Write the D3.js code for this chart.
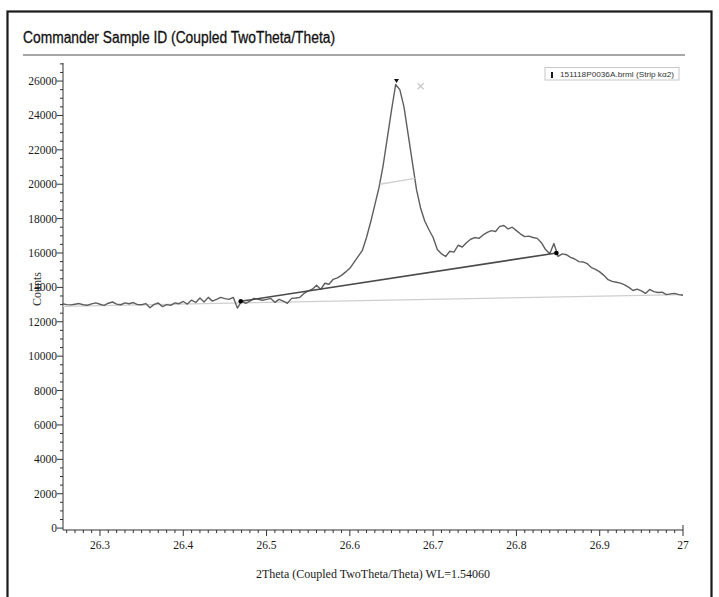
<!DOCTYPE html>
<html>
<head>
<meta charset="utf-8">
<script src="https://cdn.jsdelivr.net/npm/d3@7"></script>
<style>
  html, body { margin: 0; padding: 0; background: #fff; }
  svg { display: block; }
</style>
</head>
<body>
<svg id="chart" width="719" height="597"></svg>
<script>
// ---------- DATA ----------
const chartTitle = "Commander Sample ID (Coupled TwoTheta/Theta)";
const xTitle = "2Theta (Coupled TwoTheta/Theta) WL=1.54060";
const yTitle = "Counts";
const legendLabel = "151118P0036A.brml (Strip k\u03b12)";

const twoTheta = [
  26.255,26.260,26.265,26.270,26.275,26.280,26.285,26.290,26.295,26.300,
  26.305,26.310,26.315,26.320,26.325,26.330,26.335,26.340,26.345,26.350,
  26.355,26.360,26.365,26.370,26.375,26.380,26.385,26.390,26.395,26.400,
  26.405,26.410,26.415,26.420,26.425,26.430,26.435,26.440,26.445,26.450,
  26.455,26.460,26.465,26.470,26.475,26.480,26.485,26.490,26.495,26.500,
  26.505,26.510,26.515,26.520,26.525,26.530,26.535,26.540,26.545,26.550,
  26.555,26.560,26.565,26.570,26.575,26.580,26.585,26.590,26.595,26.600,
  26.605,26.610,26.615,26.620,26.625,26.630,26.635,26.640,26.645,26.650,
  26.655,26.660,26.665,26.670,26.675,26.680,26.685,26.690,26.695,26.700,
  26.705,26.710,26.715,26.720,26.725,26.730,26.735,26.740,26.745,26.750,
  26.755,26.760,26.765,26.770,26.775,26.780,26.785,26.790,26.795,26.800,
  26.805,26.810,26.815,26.820,26.825,26.830,26.835,26.840,26.845,26.850,
  26.855,26.860,26.865,26.870,26.875,26.880,26.885,26.890,26.895,26.900,
  26.905,26.910,26.915,26.920,26.925,26.930,26.935,26.940,26.945,26.950,
  26.955,26.960,26.965,26.970,26.975,26.980,26.985,26.990,26.995,27.000
];
const counts = [
  13050,13000,12980,13020,13060,12990,12960,13040,13100,13020,
  12950,13080,13150,13030,12990,13100,13050,13120,13000,12990,
  13060,12820,13010,13090,12880,13000,12960,13100,13050,13180,
  13030,13260,13120,13380,13150,13420,13200,13300,13420,13350,
  13300,13420,12800,13200,13070,13200,13360,13300,13250,13300,
  13360,13130,13300,13200,13070,13360,13380,13420,13650,13800,
  13890,14120,13890,14240,14180,14470,14550,14700,14900,15110,
  15450,15800,16150,16900,17800,18800,19800,21100,22700,24300,
  25800,25500,24500,22900,21300,19700,18600,17850,17350,16900,
  16200,15950,15800,16100,16050,16450,16350,16600,16800,16900,
  16850,17050,17200,17300,17250,17550,17600,17400,17500,17300,
  17100,16950,16980,16900,16850,16600,16200,15950,16550,15800,
  15950,15900,15750,15650,15500,15480,15380,15150,15050,14900,
  14700,14450,14350,14300,14250,14150,14000,13820,13900,13800,
  13650,13880,13750,13700,13720,13580,13620,13650,13580,13540
];

// fitted background (light gray) and local background (dark) lines
const backgroundLine = [[26.2556, 12900], [27.0, 13580]];
const localBackground = [[26.469, 13190], [26.848, 16000]];
// FWHM marker (light gray)
const fwhmLine = [[26.636, 20000], [26.678, 20340]];
// peak marker and cross marker
const peakMarker = [26.656, 26000];
const crossMarker = [26.685, 25700];

const xMajorTicks = [26.3, 26.4, 26.5, 26.6, 26.7, 26.8, 26.9, 27.0];
const xTickLabels = ["26.3", "26.4", "26.5", "26.6", "26.7", "26.8", "26.9", "27"];
const yMajorTicks = [0,2000,4000,6000,8000,10000,12000,14000,16000,18000,20000,22000,24000,26000];
const yTickLabels = ["0","2000","4000","6000","8000","10000","12000","14000","16000","18000","20000","22000","24000","26000"];

// ---------- LAYOUT ----------
const svg = d3.select("#chart");
const plotLeft = 63, plotRight = 683, plotTop = 63, plotBottom = 530;

const x = d3.scaleLinear().domain([26.2556, 27.0]).range([plotLeft, plotRight]);
const y = d3.scaleLinear().domain([-110, 27050]).range([plotBottom, plotTop]);

// outer frame (extends beyond bottom edge)
svg.append("rect")
  .attr("x", 7.5).attr("y", 11.5).attr("width", 704).attr("height", 620)
  .attr("fill", "none").attr("stroke", "#1a1a1a").attr("stroke-width", 2.2);

// title
svg.append("text")
  .attr("x", 23).attr("y", 43)
  .attr("font-family", "Liberation Sans, Arial, sans-serif")
  .attr("font-size", 16)
  .attr("fill", "#111").attr("stroke", "#111").attr("stroke-width", 0.3)
  .attr("textLength", 312).attr("lengthAdjust", "spacingAndGlyphs")
  .text(chartTitle);

svg.append("line")
  .attr("x1", 23).attr("x2", 685).attr("y1", 55).attr("y2", 55)
  .attr("stroke", "#8a8a8a").attr("stroke-width", 1.6);

const serif = "Liberation Serif, Times New Roman, serif";

// ---------- AXES ----------
const yMinor = d3.range(0, 27001, 500).filter(v => v % 2000 !== 0);
const yAxisG = svg.append("g").attr("transform", `translate(${plotLeft},0)`);
yAxisG.append("line").attr("x1", 0).attr("x2", 0).attr("y1", plotTop).attr("y2", plotBottom)
  .attr("stroke", "#333").attr("stroke-width", 1);
yAxisG.selectAll("line.minor").data(yMinor).enter().append("line")
  .attr("class", "minor")
  .attr("x1", -3).attr("x2", 0).attr("y1", d => y(d)).attr("y2", d => y(d))
  .attr("stroke", "#333").attr("stroke-width", 1);
yAxisG.selectAll("line.major").data(yMajorTicks).enter().append("line")
  .attr("class", "major")
  .attr("x1", -6).attr("x2", 0).attr("y1", d => y(d)).attr("y2", d => y(d))
  .attr("stroke", "#333").attr("stroke-width", 1);
yAxisG.selectAll("text").data(yMajorTicks).enter().append("text")
  .attr("x", -6).attr("y", d => y(d)).attr("dy", "0.35em")
  .attr("text-anchor", "end")
  .attr("font-family", serif).attr("font-size", 11.5).attr("fill", "#1a1a1a")
  .text((d, i) => yTickLabels[i]);

const xMinor = d3.range(26.26, 27.0001, 0.01).filter(v => Math.abs(Math.round(v * 10) - v * 10) > 0.01);
const xAxisG = svg.append("g").attr("transform", `translate(0,${plotBottom})`);
xAxisG.append("line").attr("x1", plotLeft).attr("x2", plotRight).attr("y1", 0).attr("y2", 0)
  .attr("stroke", "#333").attr("stroke-width", 1);
xAxisG.selectAll("line.minor").data(xMinor).enter().append("line")
  .attr("class", "minor")
  .attr("x1", d => x(d)).attr("x2", d => x(d)).attr("y1", 0).attr("y2", 3)
  .attr("stroke", "#333").attr("stroke-width", 1);
xAxisG.selectAll("line.major").data(xMajorTicks).enter().append("line")
  .attr("class", "major")
  .attr("x1", d => x(d)).attr("x2", d => x(d)).attr("y1", 0).attr("y2", 6)
  .attr("stroke", "#333").attr("stroke-width", 1);
xAxisG.append("line").attr("x1", plotRight).attr("x2", plotRight).attr("y1", -5).attr("y2", 0)
  .attr("stroke", "#333").attr("stroke-width", 1);
xAxisG.selectAll("text").data(xMajorTicks).enter().append("text")
  .attr("x", d => x(d)).attr("y", 19)
  .attr("text-anchor", "middle")
  .attr("font-family", serif).attr("font-size", 11.5).attr("fill", "#1a1a1a")
  .text((d, i) => xTickLabels[i]);

// axis titles
svg.append("text")
  .attr("x", 373).attr("y", 578)
  .attr("text-anchor", "middle")
  .attr("font-family", serif).attr("font-size", 12).attr("fill", "#1a1a1a")
  .text(xTitle);

svg.append("text")
  .attr("transform", "translate(41,289) rotate(-90)")
  .attr("text-anchor", "middle")
  .attr("font-family", serif).attr("font-size", 12).attr("fill", "#333")
  .text(yTitle);

// ---------- MARKS ----------
const lineGen = d3.line().x(d => x(d[0])).y(d => y(d[1]));

svg.append("path")
  .datum(backgroundLine)
  .attr("d", lineGen)
  .attr("fill", "none").attr("stroke", "#cfcfcf").attr("stroke-width", 1.3);

svg.append("path")
  .datum(twoTheta.map((t, i) => [t, counts[i]]))
  .attr("d", lineGen)
  .attr("fill", "none").attr("stroke", "#5e5e5e").attr("stroke-width", 1.4)
  .attr("stroke-linejoin", "round");

svg.append("path")
  .datum(localBackground)
  .attr("d", lineGen)
  .attr("fill", "none").attr("stroke", "#4a4a4a").attr("stroke-width", 1.6);

svg.selectAll("circle.bg").data(localBackground).enter().append("circle")
  .attr("class", "bg")
  .attr("cx", d => x(d[0])).attr("cy", d => y(d[1])).attr("r", 2.3)
  .attr("fill", "#000");

svg.append("path")
  .datum(fwhmLine)
  .attr("d", lineGen)
  .attr("fill", "none").attr("stroke", "#cfcfcf").attr("stroke-width", 1.4);

// peak marker (small downward triangle)
const pkX = x(peakMarker[0]), pkY = y(peakMarker[1]);
svg.append("path")
  .attr("d", `M${pkX - 2.5},${pkY - 2} L${pkX + 2.5},${pkY - 2} L${pkX},${pkY + 2} Z`)
  .attr("fill", "#111");

// cross marker
const crX = x(crossMarker[0]), crY = y(crossMarker[1]);
svg.append("path")
  .attr("d", `M${crX - 3},${crY - 3} L${crX + 3},${crY + 3} M${crX - 3},${crY + 3} L${crX + 3},${crY - 3}`)
  .attr("stroke", "#c8c8c8").attr("stroke-width", 1.2).attr("fill", "none");

// ---------- LEGEND ----------
const lg = svg.append("g").attr("transform", "translate(545,67.5)");
lg.append("rect").attr("x", 0).attr("y", 0).attr("width", 134).attr("height", 12.5)
  .attr("fill", "#fff").attr("stroke", "#c8c8c8").attr("stroke-width", 1);
lg.append("line").attr("x1", 7).attr("x2", 7).attr("y1", 4.5).attr("y2", 10.5)
  .attr("stroke", "#000").attr("stroke-width", 1.8);
lg.append("text").attr("x", 15).attr("y", 9)
  .attr("font-family", "Liberation Sans, Arial, sans-serif")
  .attr("font-size", 8).attr("fill", "#333")
  .attr("textLength", 114).attr("lengthAdjust", "spacingAndGlyphs")
  .text(legendLabel);
</script>
</body>
</html>
